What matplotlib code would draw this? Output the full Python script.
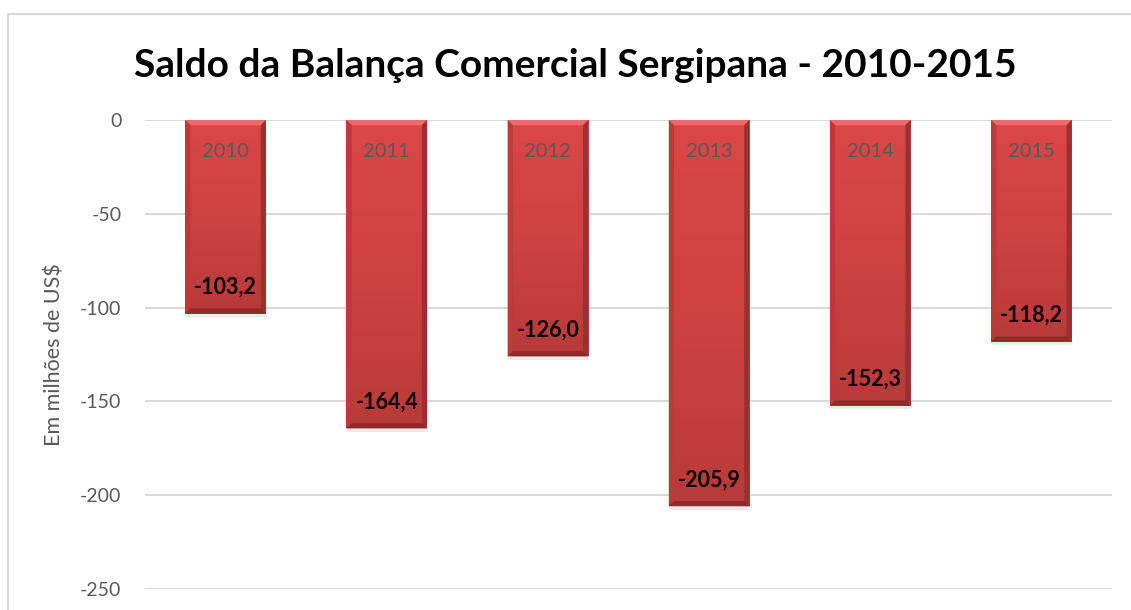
"""
Saldo da Balança Comercial Sergipana - 2010-2015
Bar chart with beveled red bars, Excel style.
"""

import numpy as np
import matplotlib
matplotlib.use("Agg")
import matplotlib.pyplot as plt
from matplotlib.patches import Rectangle, Polygon
from matplotlib.colors import LinearSegmentedColormap

# Data
years = ["2010", "2011", "2012", "2013", "2014", "2015"]
saldo = [-103.2, -164.4, -126.0, -205.9, -152.3, -118.2]
yticks = [0, -50, -100, -150, -200, -250]

plt.rcParams["font.family"] = ["Lato", "DejaVu Sans"]
GRAY = "#595959"

fig = plt.figure(figsize=(11.31, 6.10), dpi=100)
ax = fig.add_axes([0.1282, 0.0344, 0.855, 0.7689])

# Chart frame (cut off at right and bottom as in the reference)
fig.patches.append(Rectangle((0.007, -0.2), 1.5, 0.977 + 0.2, transform=fig.transFigure,
                             fill=False, edgecolor="#d9d9d9", lw=1.5, zorder=0))

x = np.arange(len(years))
width = 0.5
bars = ax.bar(x, saldo, width=width, color="#d04040", zorder=3)

grad = LinearSegmentedColormap.from_list("g", ["#b83a3a", "#cf4242", "#da4747"])
for b in bars:
    x0, w = b.get_x(), b.get_width()
    y1 = b.get_height()
    # drop shadow
    ax.add_patch(Rectangle((x0 + 0.004, y1 - 1.8), w, -y1, color="#000000",
                           alpha=0.08, lw=0, zorder=2))
    # vertical gradient
    g = np.linspace(0, 1, 100).reshape(-1, 1)
    ax.imshow(g, cmap=grad, aspect="auto", origin="lower",
              extent=[x0, x0 + w, y1, 0], zorder=3.5)
    # bevel bands
    dx, dy = 0.032, 2.8
    ax.add_patch(Polygon([(x0, 0), (x0 + w, 0), (x0 + w - dx, -dy), (x0 + dx, -dy)],
                         closed=True, color="#ee6a6a", lw=0, zorder=4))
    ax.add_patch(Polygon([(x0, 0), (x0 + dx, -dy), (x0 + dx, y1 + dy), (x0, y1)],
                         closed=True, color="#bb3a3a", lw=0, zorder=4))
    ax.add_patch(Polygon([(x0 + w, 0), (x0 + w - dx, -dy), (x0 + w - dx, y1 + dy), (x0 + w, y1)],
                         closed=True, color="#a02e2e", lw=0, zorder=4))
    ax.add_patch(Polygon([(x0, y1), (x0 + dx, y1 + dy), (x0 + w - dx, y1 + dy), (x0 + w, y1)],
                         closed=True, color="#922828", lw=0, zorder=4))

# Labels inside bars
for xi, yr, v in zip(x, years, saldo):
    ax.annotate(yr, (xi, 0), xytext=(0, -23), textcoords="offset points",
                ha="center", va="center", fontsize=14.5, color=GRAY, zorder=5)
    ax.annotate(f"{v:.1f}".replace(".", ","), (xi, v), xytext=(0, 19),
                textcoords="offset points", ha="center", va="center",
                fontsize=15.5, fontweight="bold", color="black", zorder=5)

ax.set_xlim(-0.5, len(years) - 0.5)
ax.set_ylim(-250, 0)
ax.set_yticks(yticks)
ax.set_yticklabels([str(t) for t in yticks], fontsize=14, color=GRAY)
ax.set_xticks([])
ax.tick_params(axis="y", length=0, pad=17)
ax.grid(axis="y", color="#d9d9d9", lw=1.5, zorder=0)
ax.set_axisbelow(True)
for s in ax.spines.values():
    s.set_visible(False)

fig.text(55 / 1131, 0.418, "Em milhões de US$", rotation=90, ha="center", va="center",
         fontsize=15.5, color=GRAY)
fig.text(575 / 1131, 0.893, "Saldo da Balança Comercial Sergipana - 2010-2015",
         ha="center", va="center", fontsize=28, fontweight="bold", color="black")

fig.savefig("out.png", dpi=100)
plt.close(fig)
